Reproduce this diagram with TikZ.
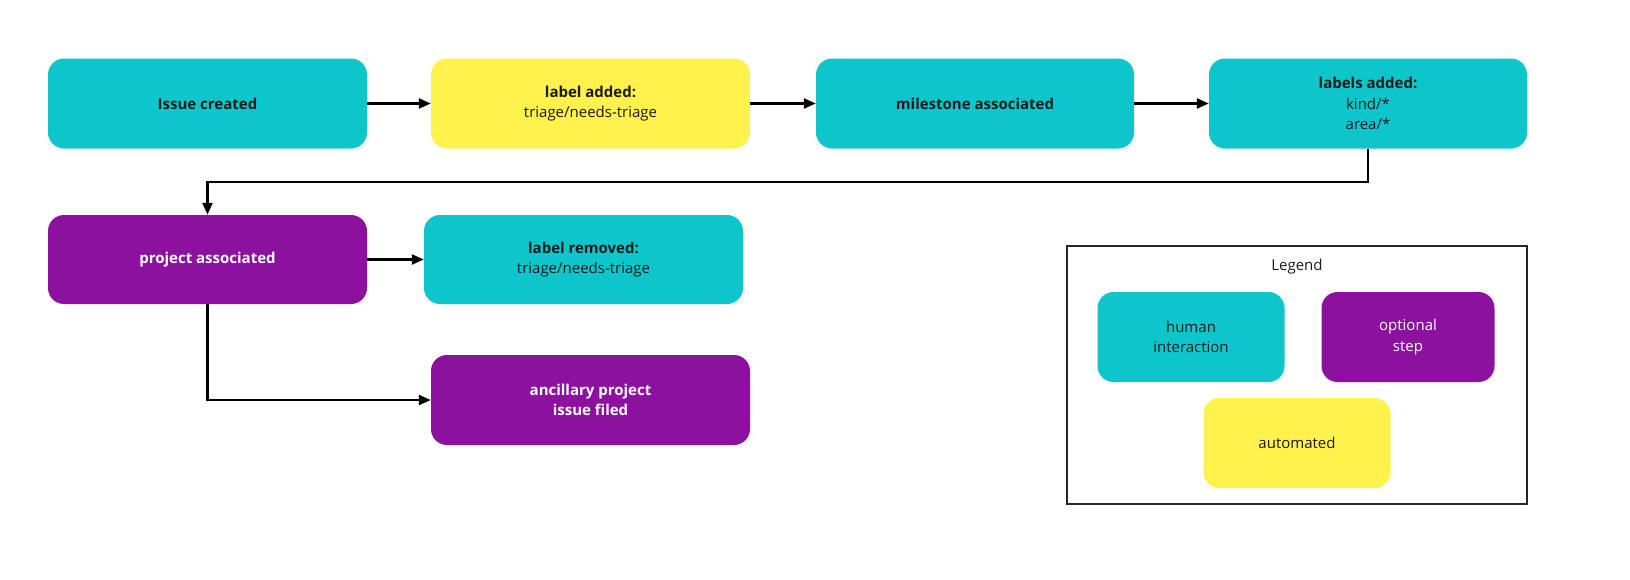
\documentclass[tikz,border=0pt]{standalone}
\usepackage{fontspec}
\setmainfont{Open Sans}
\usetikzlibrary{arrows.meta}
\definecolor{cyanbox}{RGB}{12,198,204}
\definecolor{yellowbox}{RGB}{255,242,76}
\definecolor{purplebox}{RGB}{139,17,158}
\definecolor{textdark}{RGB}{26,26,26}
\tikzset{
  box/.style={rounded corners=16pt, minimum width=319pt, minimum height=90pt, inner sep=0pt, align=center,
    font=\fontsize{15}{20.5}\selectfont, text=textdark},
  human/.style={box, fill=cyanbox},
  auto/.style={box, fill=yellowbox},
  optional/.style={box, fill=purplebox, text=white},
  arr/.style={line width=2.3pt, draw=black, -{Triangle[length=12pt,width=10pt]}},
  legendbox/.style={draw=black!85, line width=1.3pt}
}
\begin{document}
\begin{tikzpicture}[x=1pt,y=-1pt]
\useasboundingbox (0,0) rectangle (1630,579);
\node[human] (issue) at (207.5,103.5) {\textbf{Issue created}};
\node[auto] (labeladd) at (590.5,103.5) {\textbf{label added:}\\triage/needs-triage};
\node[human, minimum width=318pt] (milestone) at (975,103.5) {\textbf{milestone associated}};
\node[human, minimum width=318pt] (labels) at (1368,103.5) {\textbf{labels added:}\\kind/*\\area/*};
\node[optional, minimum height=89pt] (project) at (207.5,259.5) {\textbf{project associated}};
\node[human, minimum height=89pt] (removed) at (583.5,259.5) {\textbf{label removed:}\\triage/needs-triage};
\node[optional] (ancillary) at (590.5,400) {\textbf{ancillary project}\\\textbf{issue filed}};

\draw[arr] (issue) -- (labeladd);
\draw[arr] (labeladd) -- (milestone);
\draw[arr] (milestone) -- (labels);
\draw[arr] (labels.south) -- ++(0,33) -| (project.north);
\draw[arr] (project) -- (removed);
\draw[arr] (project.south) |- (ancillary.west);

\draw[legendbox] (1067,246) rectangle (1527,504);
\node[font=\fontsize{15}{20.5}\selectfont, text=textdark] (legendtitle) at (1297,267) {Legend};
\node[human, minimum width=187pt] (lhuman) at (1191,337) {human\\interaction};
\node[optional, minimum width=173pt] (loptional) at (1408,337) {optional\\step};
\node[auto, minimum width=187pt] (lauto) at (1297,443) {automated};
\end{tikzpicture}
\end{document}
